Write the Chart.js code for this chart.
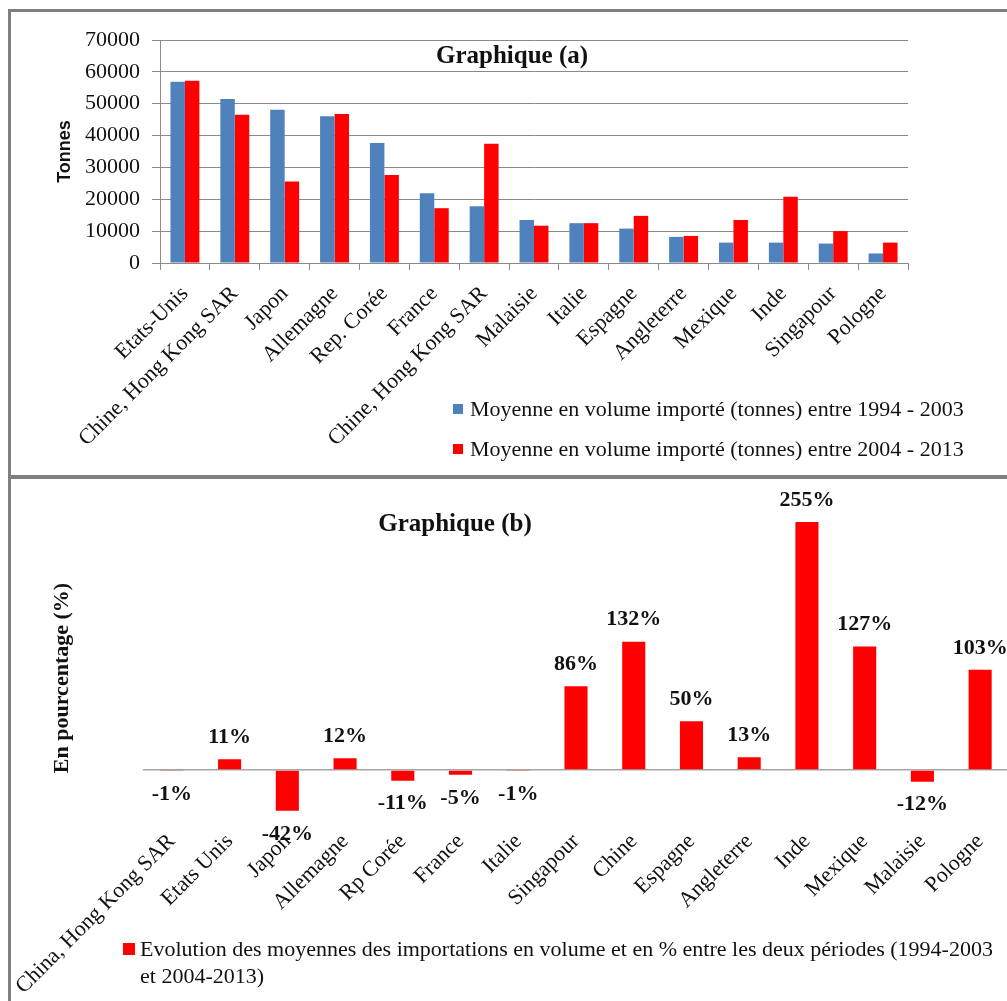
<!DOCTYPE html>
<html lang="fr">
<head>
<meta charset="utf-8">
<title>Importations moyennes en volume</title>
<script src="https://cdn.jsdelivr.net/npm/chart.js@4.4.1/dist/chart.umd.min.js"></script>
<style>
  html, body { margin: 0; padding: 0; background: #fff; overflow: hidden; width: 1007px; height: 1001px; }
  canvas { position: absolute; left: 0; }
  #graphA { top: 0; }
  #graphB { top: 477px; }
  .trait { position: absolute; background: #808080; }
</style>
</head>
<body>
<canvas id="graphA" width="1007" height="475"></canvas>
<canvas id="graphB" width="1009" height="524"></canvas>
<div class="trait" style="left:8px;top:9px;width:1000px;height:3px"></div>
<div class="trait" style="left:8px;top:9px;width:3px;height:992px"></div>
<div class="trait" style="left:8px;top:475px;width:1000px;height:4px"></div>

<script>
// Graphique (a) : moyennes importées par pays, deux périodes
const paysA = ['Etats-Unis', 'Chine, Hong Kong SAR', 'Japon', 'Allemagne', 'Rep. Corée', 'France',
  'Chine, Hong Kong SAR', 'Malaisie', 'Italie', 'Espagne', 'Angleterre', 'Mexique', 'Inde', 'Singapour', 'Pologne'];
const moyenne9403 = [56900, 51500, 48100, 46100, 37700, 21900, 17800, 13500, 12500, 10800, 8200, 6400, 6400, 6100, 3000];
const moyenne0413 = [57200, 46500, 25600, 46800, 27600, 17200, 37400, 11700, 12500, 14800, 8500, 13500, 20800, 10000, 6400];
const graduationsA = [0, 10000, 20000, 30000, 40000, 50000, 60000, 70000];

// Graphique (b) : évolution en % entre les deux périodes
const paysB = ['China, Hong Kong SAR', 'Etats Unis', 'Japon', 'Allemagne', 'Rp Corée', 'France', 'Italie',
  'Singapour', 'Chine', 'Espagne', 'Angleterre', 'Inde', 'Mexique', 'Malaisie', 'Pologne'];
const evolution = [-1, 11, -42, 12, -11, -5, -1, 86, 132, 50, 13, 255, 127, -12, 103];

const SERIF = '"Liberation Serif", "Times New Roman", serif';
const SANS = '"Liberation Sans", Arial, sans-serif';
const ENCRE = '#111';
const GRIS = '#8a8a8a';

// textes libres (titres) posés sur le canvas
function textesFixes(items) {
  return {
    id: 'textesFixes',
    afterDraw(chart) {
      const ctx = chart.ctx;
      items.forEach(t => {
        ctx.save();
        ctx.font = t.font;
        ctx.fillStyle = ENCRE;
        ctx.textAlign = 'center';
        ctx.textBaseline = 'middle';
        ctx.translate(t.x, t.y);
        if (t.rotation) ctx.rotate(t.rotation);
        ctx.fillText(t.text, 0, 0);
        ctx.restore();
      });
    }
  };
}

// légende dessinée à partir des datasets
function legendeFixe(o) {
  return {
    id: 'legendeFixe',
    afterDraw(chart) {
      const ctx = chart.ctx;
      ctx.save();
      ctx.font = o.font;
      ctx.textBaseline = 'middle';
      chart.data.datasets.forEach((ds, i) => {
        const y = o.y + i * o.rowGap;
        ctx.fillStyle = ds.backgroundColor;
        ctx.fillRect(o.x, y - o.box / 2, o.box, o.box);
        ctx.fillStyle = ENCRE;
        ds.label.split('\n').forEach((ligne, j) => {
          ctx.fillText(ligne, o.x + o.box + o.space, y + 1 + j * o.lineGap);
        });
      });
      ctx.restore();
    }
  };
}

// valeurs en % au-dessus / au-dessous des barres
const etiquettes = {
  id: 'etiquettes',
  afterDatasetsDraw(chart) {
    const ctx = chart.ctx;
    const ds = chart.data.datasets[0];
    ctx.save();
    ctx.font = 'bold 22px ' + SERIF;
    ctx.fillStyle = ENCRE;
    ctx.textAlign = 'center';
    ctx.textBaseline = 'middle';
    chart.getDatasetMeta(0).data.forEach((bar, i) => {
      const v = ds.data[i];
      ctx.fillText(v + '%', bar.x, v >= 0 ? bar.y - 22 : bar.y + 23);
    });
    ctx.restore();
  }
};

new Chart(document.getElementById('graphA'), {
  type: 'bar',
  data: {
    labels: paysA,
    datasets: [
      { label: 'Moyenne en volume importé (tonnes) entre 1994 - 2003', data: moyenne9403, backgroundColor: '#4f81bd' },
      { label: 'Moyenne en volume importé (tonnes) entre 2004 - 2013', data: moyenne0413, backgroundColor: '#ff0000' }
    ]
  },
  options: {
    responsive: false,
    animation: false,
    layout: { padding: { top: 40, right: 99, left: 0, bottom: 0 } },
    datasets: { bar: { categoryPercentage: 0.58, barPercentage: 1 } },
    plugins: { legend: { display: false }, tooltip: { enabled: false } },
    scales: {
      x: {
        grid: { drawOnChartArea: false, color: GRIS, tickLength: 7 },
        border: { color: GRIS },
        ticks: { font: { family: SERIF, size: 22 }, color: ENCRE, minRotation: 45, maxRotation: 45, autoSkip: false, padding: 11 },
        afterFit(s) { s.height = 212; s.paddingLeft = 0; s.paddingRight = 0; }
      },
      y: {
        min: 0,
        max: 70000,
        afterBuildTicks(s) { s.ticks = graduationsA.map(v => ({ value: v })); },
        grid: { color: GRIS, tickLength: 8 },
        border: { color: GRIS },
        ticks: { font: { family: SERIF, size: 22 }, color: ENCRE, padding: 12, callback: v => String(v) },
        title: { display: true, text: 'Tonnes', color: ENCRE, font: { family: SANS, size: 18, weight: 'bold' }, padding: { top: 54, bottom: 0 } },
        afterFit(s) { s.width = 160; }
      }
    }
  },
  plugins: [
    textesFixes([{ text: 'Graphique (a)', x: 512, y: 57, font: 'bold 25px ' + SERIF }]),
    legendeFixe({ x: 453, y: 409, box: 10, space: 7, rowGap: 40, lineGap: 27, font: '22px ' + SERIF })
  ]
});

new Chart(document.getElementById('graphB'), {
  type: 'bar',
  data: {
    labels: paysB,
    datasets: [
      { label: 'Evolution des moyennes des importations en volume et en % entre les deux périodes (1994-2003\net 2004-2013)', data: evolution, backgroundColor: '#ff0000' }
    ]
  },
  options: {
    responsive: false,
    animation: false,
    layout: { padding: { top: 11, right: 0, left: 0, bottom: 0 } },
    datasets: { bar: { categoryPercentage: 0.4, barPercentage: 1 } },
    plugins: { legend: { display: false }, tooltip: { enabled: false } },
    scales: {
      x: {
        grid: { display: false, drawTicks: false },
        border: { display: false },
        ticks: { font: { family: SERIF, size: 22 }, color: ENCRE, minRotation: 45, maxRotation: 45, autoSkip: false, padding: 10 },
        afterFit(s) { s.height = 182.4; s.paddingLeft = 0; s.paddingRight = 0; }
      },
      y: {
        min: -50,
        max: 290,
        afterBuildTicks(s) { s.ticks = [{ value: 0 }]; },
        ticks: { display: false },
        grid: { color: '#a6a6a6', lineWidth: 1.5, drawTicks: false },
        border: { display: false },
        afterFit(s) { s.width = 143; }
      }
    }
  },
  plugins: [
    etiquettes,
    textesFixes([
      { text: 'Graphique (b)', x: 455, y: 48, font: 'bold 25px ' + SERIF },
      { text: 'En pourcentage (%)', x: 62, y: 201, rotation: -Math.PI / 2, font: 'bold 22px ' + SERIF }
    ]),
    legendeFixe({ x: 123, y: 472, box: 12, space: 5, rowGap: 0, lineGap: 27, font: '22px ' + SERIF })
  ]
});
</script>
</body>
</html>
